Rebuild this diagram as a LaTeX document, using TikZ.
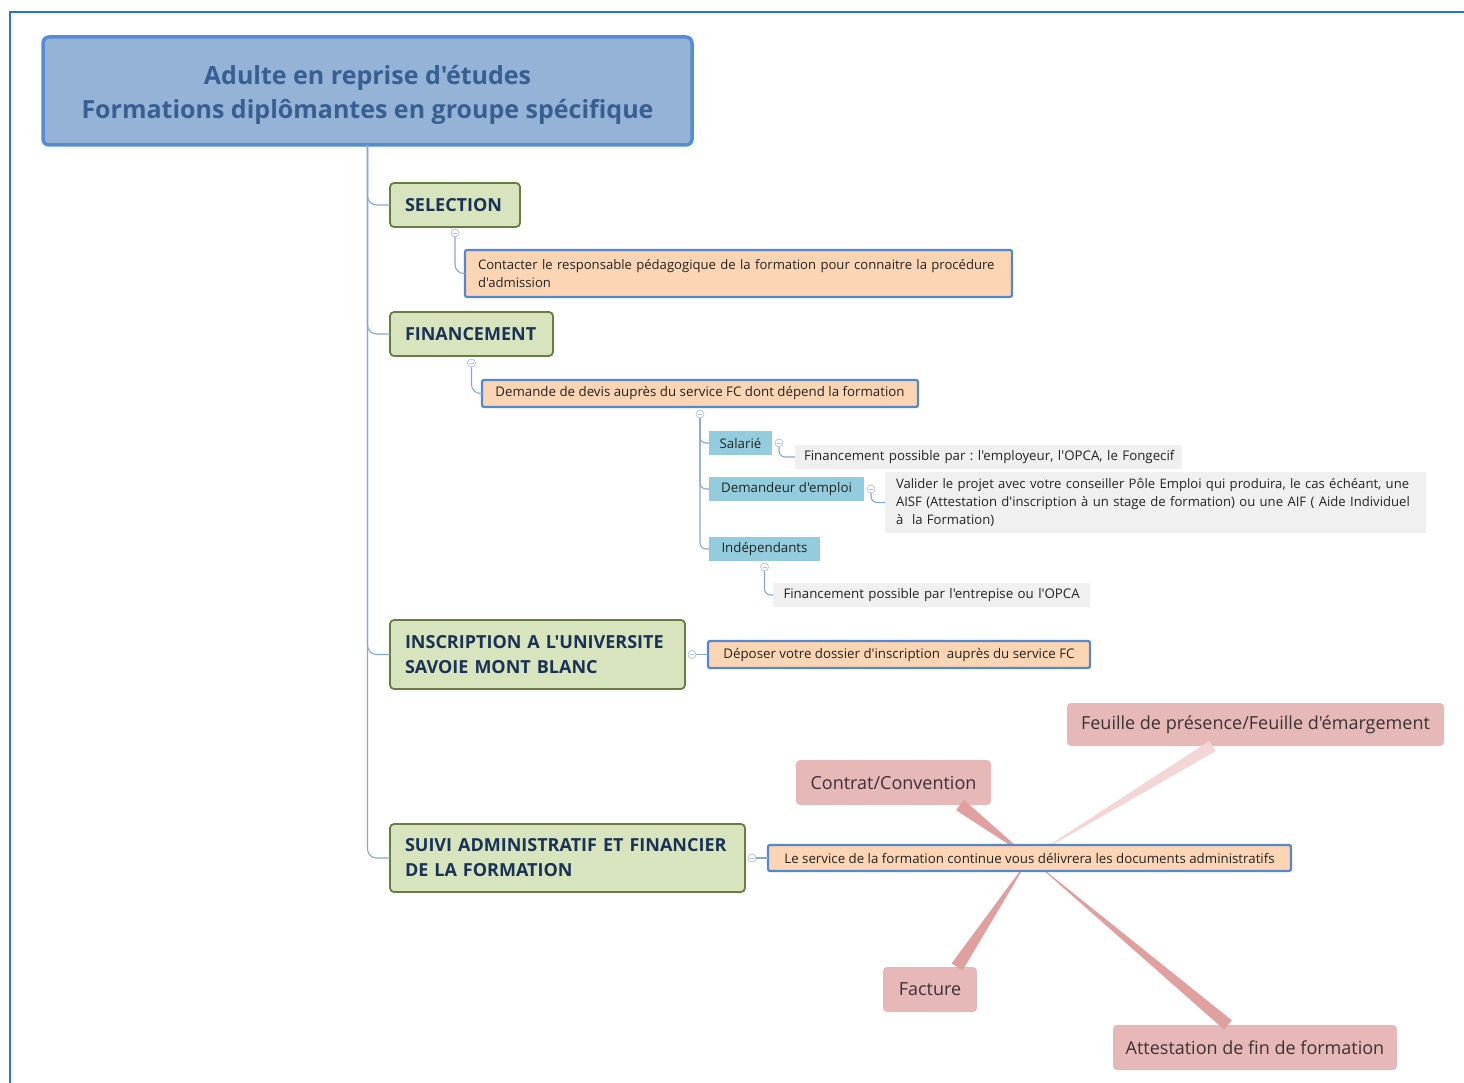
\documentclass[tikz,border=0pt]{standalone}
\usepackage{fontspec}
\setmainfont{Open Sans}[Ligatures=TeXOff]
\usetikzlibrary{calc}
\frenchspacing
\definecolor{frameblue}{RGB}{30,120,205}
\definecolor{titlefill}{RGB}{149,179,215}
\definecolor{titleborder}{RGB}{85,140,210}
\definecolor{titletext}{RGB}{55,95,145}
\definecolor{greenfill}{RGB}{215,228,189}
\definecolor{greenborder}{RGB}{105,125,65}
\definecolor{greentext}{RGB}{25,50,85}
\definecolor{peach}{RGB}{252,213,180}
\definecolor{peachborder}{RGB}{85,135,205}
\definecolor{tealfill}{RGB}{147,205,221}
\definecolor{grayfill}{RGB}{240,240,240}
\definecolor{pinkfill}{RGB}{230,185,184}
\definecolor{pinkline}{RGB}{224,160,160}
\definecolor{pinklight}{RGB}{243,215,215}
\definecolor{conn}{RGB}{135,168,212}
\definecolor{knob}{RGB}{175,190,215}
\definecolor{darktext}{RGB}{35,35,35}
\definecolor{pinktext}{RGB}{60,50,50}
\tikzset{
  every node/.style={inner sep=0pt, outer sep=0pt},
  titlebox/.style={draw=titleborder, line width=3.5pt, fill=titlefill, rounded corners=6pt,
    text=titletext, font=\fontsize{25}{34}\selectfont\bfseries, align=center},
  greenbox/.style={draw=greenborder, line width=1.8pt, fill=greenfill, rounded corners=4pt,
    text=greentext, font=\fontsize{18}{25}\selectfont\bfseries, align=left, inner xsep=15pt},
  peachbox/.style={draw=peachborder, line width=2.2pt, fill=peach, rounded corners=2pt,
    text=darktext, font=\fontsize{13.3}{18}\selectfont},
  tealbox/.style={fill=tealfill, text=darktext, font=\fontsize{13.3}{18}\selectfont},
  graybox/.style={fill=grayfill, text=darktext, font=\fontsize{13.3}{18}\selectfont, align=left},
  pinkbox/.style={fill=pinkfill, rounded corners=4pt, text=pinktext, font=\fontsize{18}{22}\selectfont},
  link/.style={draw=conn, line width=1.1pt, rounded corners=9pt},
  knobstyle/.style={draw=knob, fill=white, line width=0.7pt},
}
\newcommand{\knob}[1]{%
  \draw[knobstyle] (#1) circle (4);
  \draw[knob, line width=0.7pt] ([xshift=-2pt]#1) -- ([xshift=2pt]#1);}
\begin{document}
\begin{tikzpicture}[x=1pt,y=-1pt]
\useasboundingbox (0,0) rectangle (1464,1083);
% frame
\draw[frameblue, line width=1.3pt] (10,1083) -- (10,12) -- (1464,12);

% nodes
\node[titlebox, minimum width=649, minimum height=108] (title) at (367.5,91)
  {\rule{0pt}{1.1em}Adulte en reprise d'études\\Formations diplômantes en groupe spécifique};

\node[greenbox, minimum width=130, minimum height=44, text width=100] (sel) at (455,205) {SELECTION};
\node[peachbox, minimum width=547, minimum height=47, text width=521, align=left,
      font=\fontsize{13.1}{18}\selectfont] (contact) at (738.5,273.5)
  {Contacter le responsable pédagogique de la formation pour connaitre la procédure\\d'admission};

\node[greenbox, minimum width=163, minimum height=44, text width=133] (fin) at (471.5,334) {FINANCEMENT};
\node[peachbox, minimum width=436, minimum height=27] (dem) at (700,393.5)
  {Demande de devis auprès du service FC dont dépend la formation};

\node[tealbox, minimum width=63, minimum height=24] (sal) at (740.5,443) {Salarié};
\node[graybox, minimum width=387, minimum height=24, text width=379] (salt) at (988.5,457)
  {\hspace*{5pt}Financement possible par : l'employeur, l'OPCA, le Fongecif};
\node[tealbox, minimum width=155, minimum height=24] (dmd) at (786.5,489) {Demandeur d'emploi};
\node[graybox, minimum width=541, minimum height=61, text width=519,
      font=\fontsize{13.1}{18}\selectfont] (dmdt) at (1155.5,502.5)
  {Valider le projet avec votre conseiller Pôle Emploi qui produira, le cas échéant, une\\AISF (Attestation d'inscription à un stage de formation) ou une AIF ( Aide Individuel\\à\ \ la Formation)};
\node[tealbox, minimum width=111, minimum height=24] (ind) at (764.5,549) {Indépendants};
\node[graybox, minimum width=317, minimum height=24, text width=300] (indt) at (931.5,595)
  {\hspace*{2pt}Financement possible par l'entrepise ou l'OPCA};

\node[greenbox, minimum width=295, minimum height=69, text width=265] (insc) at (537.5,654.5)
  {INSCRIPTION A L'UNIVERSITE\\SAVOIE MONT BLANC};
\node[peachbox, minimum width=382, minimum height=27] (dep) at (899,654.5)
  {Déposer votre dossier d'inscription\ \ auprès du service FC};

\node[greenbox, minimum width=355, minimum height=68, text width=325] (suivi) at (567.5,858)
  {SUIVI ADMINISTRATIF ET FINANCIER\\DE LA FORMATION};

% pink nodes
\node[pinkbox, minimum width=377, minimum height=43] (feuille) at (1255.5,724.5)
  {Feuille de présence/Feuille d'émargement};
\node[pinkbox, minimum width=195, minimum height=45] (contrat) at (893.5,782.5) {Contrat/Convention};
\node[pinkbox, minimum width=94, minimum height=45] (facture) at (930,989.5) {Facture};
\node[pinkbox, minimum width=284, minimum height=45] (attest) at (1255,1047.5) {Attestation de fin de formation};

% hub coordinate and tapered links
\coordinate (hub) at (1029.5,858);
\coordinate (pc) at ([xshift=-31pt]contrat.south east);
\coordinate (pf) at ([xshift=-43pt]feuille.south);
\coordinate (pfa) at ([xshift=-20pt]facture.north east);
\coordinate (pa) at ([xshift=-27pt]attest.north);
\fill[pinkline] ($(pc)!6.5pt!90:(hub)$) -- ($(pc)!6.5pt!-90:(hub)$) -- (hub) -- cycle;
\fill[pinklight] ($(pf)!6pt!90:(hub)$) -- ($(pf)!6pt!-90:(hub)$) -- (hub) -- cycle;
\fill[pinkline] ($(pfa)!6.5pt!90:(hub)$) -- ($(pfa)!6.5pt!-90:(hub)$) -- (hub) -- cycle;
\fill[pinkline] ($(pa)!6pt!90:(hub)$) -- ($(pa)!6pt!-90:(hub)$) -- (hub) -- cycle;

\node[peachbox, minimum width=523, minimum height=26] (serv) at (1029.5,858)
  {Le service de la formation continue vous délivrera les documents administratifs};

% knobs coordinates
\coordinate (k1) at ([yshift=-6pt]sel.south);
\coordinate (k2) at ([yshift=-7pt]fin.south);
\coordinate (k3) at ([yshift=-7pt]dem.south);
\coordinate (k4) at ([xshift=7pt]sal.east);
\coordinate (k5) at ([xshift=7pt]dmd.east);
\coordinate (k6) at ([yshift=-6pt]ind.south);
\coordinate (k7) at ([xshift=7pt]insc.east);
\coordinate (k8) at ([xshift=7pt]suivi.east);

% tree links
\draw[link] (title.south) |- (sel.west);
\draw[link] (title.south) |- (fin.west);
\draw[link] (title.south) |- (insc.west);
\draw[link] (title.south) |- (suivi.west);
\draw[link] (k1) |- (contact.west);
\draw[link] (k2) |- (dem.west);
\draw[link, rounded corners=6pt] (k3) |- (sal.west);
\draw[link, rounded corners=6pt] (k3) |- (dmd.west);
\draw[link, rounded corners=6pt] (k3) |- (ind.west);
\draw[link, rounded corners=6pt] (k4) |- (salt.west);
\draw[link, rounded corners=6pt] (k5) |- (dmdt.west);
\draw[link, rounded corners=6pt] (k6) |- (indt.west);
\draw[link] (k7) -- (dep.west);
\draw[link] (k8) -- (serv.west);

\knob{k1}\knob{k2}\knob{k3}\knob{k4}\knob{k5}\knob{k6}\knob{k7}\knob{k8}
\end{tikzpicture}
\end{document}
